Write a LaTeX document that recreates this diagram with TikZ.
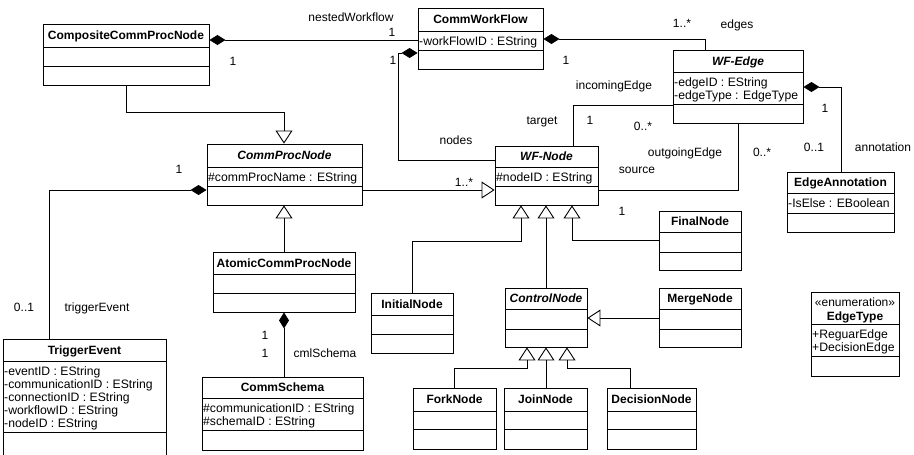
\documentclass[tikz,border=0pt]{standalone}
\usepackage{fontspec}
\setmainfont{Liberation Sans}
\usetikzlibrary{arrows.meta,fit}
\tikzset{
  cls/.style={draw=black, line width=0.9pt},
  ttl/.style={font=\fontsize{12}{13}\selectfont\bfseries, inner sep=0pt, text height=8.6pt, text depth=0pt},
  attr/.style={font=\fontsize{12.2}{13}\selectfont, anchor=north west, align=left, inner sep=0pt},
  lbl/.style={font=\fontsize{12}{13}\selectfont, inner sep=0pt, text height=8.6pt, text depth=0pt},
  conn/.style={line width=0.9pt, draw=black},
  comp/.style={conn, {Diamond[length=16pt,width=10pt]}-},
  gen/.style={conn, -{Triangle[open,length=13pt,width=17pt]}},
}
% #1 name, #2 x1, #3 y1, #4 x2, #5 y2, #6 divider1, #7 divider2, #8 title, #9 attributes
\newcommand\umlclass[9]{%
  \node[fit={(#2,#3)(#4,#5)}, inner sep=0pt, cls] (#1) {};
  \draw[cls] (#2,#6) -- (#4,#6) (#2,#7) -- (#4,#7);
  \node[ttl] (#1-t) at ({(#2+#4)/2},{(#3+#6)/2}) {#8};
  \node[attr] (#1-a) at (#2+1,#6+4) {\rule{0pt}{10pt}#9};
}
\begin{document}
\begin{tikzpicture}[x=1pt,y=-1pt]
\useasboundingbox (0,0) rectangle (914,455);

% classes
\umlclass{comp}{43}{24}{209}{85}{47}{66}{CompositeCommProcNode}{}
\umlclass{cwf}{418}{8}{543}{69}{31}{50}{CommWorkFlow}{-workFlowID : EString}
\umlclass{wfe}{673}{50}{803}{123}{72}{104}{\itshape WF-Edge}{-edgeID : EString\\-edgeType : EdgeType}
\umlclass{ea}{787}{172}{894}{232}{193}{213}{EdgeAnnotation}{-IsElse : EBoolean}
\umlclass{cpn}{207}{144}{362}{205}{167}{186}{\itshape CommProcNode}{\#commProcName : EString}
\umlclass{wfn}{495}{146}{598}{205}{167}{186}{\itshape WF-Node}{\#nodeID : EString}
\umlclass{fin}{659}{211}{741}{270}{232}{252}{FinalNode}{}
\umlclass{acpn}{213}{252}{355}{312}{274}{293}{AtomicCommProcNode}{}
\umlclass{init}{371}{293}{453}{353}{315}{334}{InitialNode}{}
\umlclass{ctl}{505}{288}{587}{347}{309}{329}{\itshape ControlNode}{}
\umlclass{mrg}{659}{288}{741}{347}{309}{329}{MergeNode}{}
\umlclass{te}{3}{339}{166}{460}{361}{432}{TriggerEvent}{-eventID : EString\\-communicationID : EString\\-connectionID : EString\\-workflowID : EString\\-nodeID : EString}
\umlclass{cs}{202}{377}{363}{450}{398}{430}{CommSchema}{\#communicationID : EString\\\#schemaID : EString}
\umlclass{fork}{413}{388}{496}{449}{411}{429}{ForkNode}{}
\umlclass{join}{504}{388}{587}{449}{411}{429}{JoinNode}{}
\umlclass{dec}{607}{388}{696}{449}{411}{429}{DecisionNode}{}
\umlclass{et}{811}{292}{899}{376}{324}{356}{}{+ReguarEdge\\+DecisionEdge}
\node[lbl] (et-s) at (855,302) {«enumeration»};
\node[lbl, font=\fontsize{12}{13}\selectfont\bfseries] (et-n) at (855,316) {EdgeType};

% connectors
\draw[comp] (comp.east |- 0,40) -- (cwf.west |- 0,40);
\coordinate (b1) at (398,160);
\draw[comp] (cwf.west |- 0,53) -| (b1) -- (wfn.west |- b1);
\draw[comp] (cwf.east |- 0,39) -| (wfe.north -| 705,0);
\draw[comp] (wfe.east |- 0,87) -| (ea.north -| 841,0);
\draw[conn] (wfe.west |- 0,105) -| (wfn.north -| 573,0);
\draw[conn] (wfe.south -| 738,0) |- (wfn.east |- 0,190);
\draw[gen] (cpn.east |- 0,190) -- (wfn.west |- 0,190);
\draw[comp] (cpn.west |- 0,190) -| (te.north -| 49,0);
\draw[gen] (comp.south -| 126,0) |- (284,112) -- (cpn.north -| 284,0);
\draw[gen] (acpn.north -| 284,0) -- (cpn.south -| 284,0);
\draw[comp] (acpn.south -| 284,0) -- (cs.north -| 284,0);
\draw[gen] (init.north -| 412,0) |- (521,241) -- (wfn.south -| 521,0);
\draw[gen] (ctl.north -| 546,0) -- (wfn.south -| 546,0);
\draw[gen] (fin.west |- 0,240) -| (wfn.south -| 572,0);
\draw[gen] (mrg.west |- 0,318) -- (ctl.east |- 0,318);
\draw[gen] (fork.north -| 454,0) |- (527,368) -- (ctl.south -| 527,0);
\draw[gen] (join.north -| 546,0) -- (ctl.south -| 546,0);
\draw[gen] (dec.north -| 630,0) |- (567,368) -- (ctl.south -| 567,0);

% labels
\node[lbl] (l1) at (351,17) {nestedWorkflow};
\node[lbl] (l2) at (392,32) {1};
\node[lbl] (l3) at (233,61) {1};
\node[lbl] (l4) at (393,60) {1};
\node[lbl] (l5) at (456,140) {nodes};
\node[lbl] (l6) at (566,60) {1};
\node[lbl] (l7) at (682,23) {1..*};
\node[lbl] (l8) at (737,24) {edges};
\node[lbl] (l9) at (614,85) {incomingEdge};
\node[lbl] (l10) at (542,120) {target};
\node[lbl] (l11) at (590,120) {1};
\node[lbl] (l12) at (643,126) {0..*};
\node[lbl] (l13) at (825,108) {1};
\node[lbl] (l14) at (814,147) {0..1};
\node[lbl] (l15) at (883,147) {annotation};
\node[lbl] (l16) at (685,152) {outgoingEdge};
\node[lbl] (l17) at (637,169) {source};
\node[lbl] (l18) at (762,152) {0..*};
\node[lbl] (l19) at (622,211) {1};
\node[lbl] (l20) at (464,182) {1..*};
\node[lbl] (l21) at (179,169) {1};
\node[lbl] (l22) at (24,307) {0..1};
\node[lbl] (l23) at (97,307) {triggerEvent};
\node[lbl] (l24) at (265,335) {1};
\node[lbl] (l25) at (265,353) {1};
\node[lbl] (l26) at (325,353) {cmlSchema};
\end{tikzpicture}
\end{document}
